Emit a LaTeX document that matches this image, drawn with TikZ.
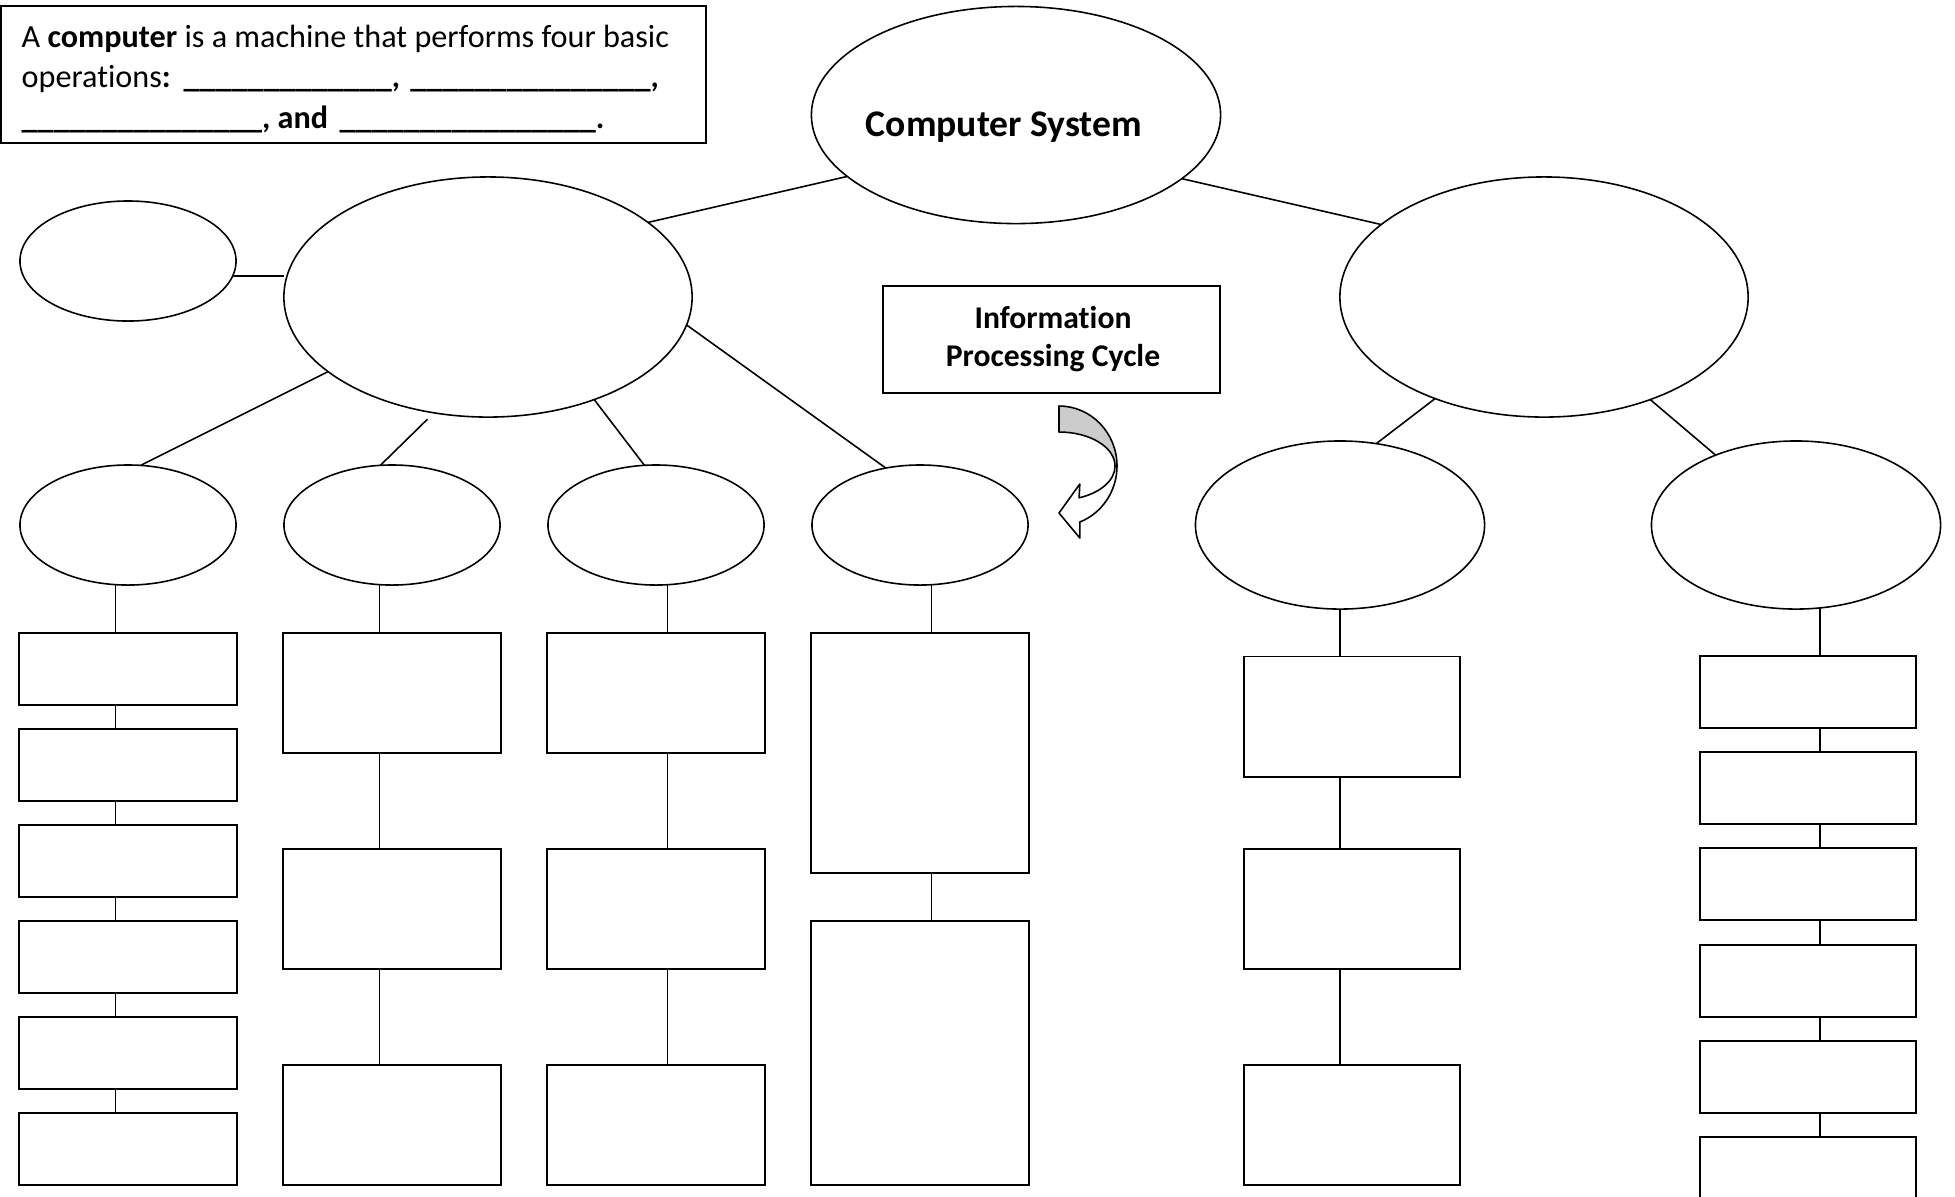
\documentclass[tikz,border=0pt]{standalone}
\usepackage{fontspec}
\setmainfont{Carlito}[Ligatures=NoCommon]
\usetikzlibrary{shapes.geometric}
\begin{document}
\begin{tikzpicture}[x=0.01cm, y=-0.01cm,
  ell/.style={draw, ellipse, inner sep=0pt, outer sep=0pt, line width=0.45pt},
  smallell/.style={ell, minimum width=2.16cm, minimum height=1.20cm},
  bigell/.style={ell, minimum width=4.08cm, minimum height=2.40cm},
  midell/.style={ell, minimum width=2.89cm, minimum height=1.68cm},
  box/.style={draw, rectangle, inner sep=0pt, outer sep=0pt, line width=0.55pt},
  shortbox/.style={box, minimum width=2.17cm, minimum height=0.72cm},
  midbox/.style={box, minimum width=2.17cm, minimum height=1.20cm},
  conn/.style={line width=0.45pt},
  deftext/.style={anchor=base west, inner sep=0pt, font=\fontsize{9.15}{11}\selectfont},
  headtext/.style={anchor=base, inner sep=0pt, font=\bfseries\fontsize{9}{11}\selectfont}]
\useasboundingbox (0,0) rectangle (1955,1196);

% definition box
\node[box, minimum width=7.05cm, minimum height=1.375cm] (def) at (353.5,74.5) {};
\node[deftext] (def1) at (21,47) {A \textbf{computer} is a machine that performs four basic};
\node[deftext] (def2) at (21,87.5) {operations\textbf{:}\ \hspace{1.6pt}\textbf{\_\_\_\_\_\_\_\_\_\_\_\_\_,\ \hspace{0.8pt}\_\_\_\_\_\_\_\_\_\_\_\_\_\_\_,}};
\node[deftext] (def3) at (21,128) {\textbf{\_\_\_\_\_\_\_\_\_\_\_\_\_\_\_, and\ \hspace{1.2pt}\_\_\_\_\_\_\_\_\_\_\_\_\_\_\_\_.}};

% top ellipse
\node[ell, minimum width=4.09cm, minimum height=2.17cm] (cs) at (1016,115) {};
\node[anchor=base, inner sep=0pt, font=\bfseries\fontsize{10.7}{13}\selectfont] (cst) at (1004,136.5) {Computer System};

% information processing cycle
\node[box, minimum width=3.37cm, minimum height=1.07cm] (ipc) at (1051.5,339.5) {};
\node[headtext] (ipc1) at (1053,328) {Information};
\node[headtext] (ipc2) at (1053,366.5) {Processing Cycle};

% curved arrow
\filldraw[fill=black!20, line width=0.45pt, line join=round]
  (1059,406) arc[start angle=-90, end angle=0, x radius=58, y radius=60]
  -- (1115,466) arc[start angle=0, end angle=-90, x radius=56, y radius=34] -- cycle;
\filldraw[fill=white, line width=0.45pt, line join=round]
  (1117,466) arc[start angle=0, end angle=69, x radius=58, y radius=60]
  -- (1079.8,538) -- (1059,513) -- (1079.8,484) -- (1079.1,497.8)
  arc[start angle=69, end angle=0, x radius=56, y radius=34] -- cycle;

% ellipses
\node[smallell] (sl) at (128,261) {};
\node[bigell] (bl) at (488,297) {};
\node[bigell] (br) at (1544,297) {};
\node[smallell] (e1) at (128,525) {};
\node[smallell] (e2) at (392,525) {};
\node[smallell] (e3) at (656,525) {};
\node[smallell] (e4) at (920,525) {};
\node[midell] (e5) at (1340,525) {};
\node[midell] (e6) at (1796,525) {};

% boxes column 1
\foreach \i/\y in {1/669, 2/765, 3/861, 4/957, 5/1053, 6/1149}
  \node[shortbox] (b1\i) at (128,\y) {};
% columns 2 and 3
\foreach \i/\y in {1/692.7, 2/909, 3/1125} {
  \node[midbox] (b2\i) at (392,\y) {};
  \node[midbox] (b3\i) at (656,\y) {};
}
% column 4
\node[box, minimum width=2.17cm, minimum height=2.40cm] (b41) at (920,752.8) {};
\node[box, minimum width=2.17cm, minimum height=2.64cm] (b42) at (920,1052.8) {};
% column 5
\foreach \i/\y in {1/716.5, 2/909, 3/1125}
  \node[box, minimum width=2.16cm, minimum height=1.20cm] (b5\i) at (1352,\y) {};
% column 6
\foreach \i/\y in {1/692, 2/788.2, 3/884.4, 4/980.6, 5/1076.8, 6/1173}
  \node[box, minimum width=2.16cm, minimum height=0.72cm] (b6\i) at (1808,\y) {};

% connectors, upper part
\draw[conn] (cs.200.5) -- (bl.25);
\draw[conn] (cs.339.5) -- (br.156);
\draw[conn] (sl.352.6) -- (sl.352.6 -| bl.west);
\draw[conn] (bl.205.4) -- (e1.78.4);
\draw[conn, shorten <=2.6pt] (bl.245.2) -- (e2.101.6);
\draw[conn] (bl.316.4) -- (e3.101.5);
\draw[conn] (bl.352.6) -- (e4.121.6);
\draw[conn] (br.223.6) -- (e5.66.6);
\draw[conn] (br.316.2) -- (e6.139.2);

% connectors, ellipse to first box
\draw[conn] (e1.258.6) -- (e1.258.6 |- b11.north);
\draw[conn] (e2.258.6) -- (e2.258.6 |- b21.north);
\draw[conn] (e3.281.4) -- (e3.281.4 |- b31.north);
\draw[conn] (e4.281.4) -- (e4.281.4 |- b41.north);
\draw[conn] (e5.south) -- (e5.south |- b51.north);
\draw[conn] (e6.286.2) -- (e6.286.2 |- b61.north);

% connectors between boxes
\foreach \a/\b in {b11/b12, b12/b13, b13/b14, b14/b15, b15/b16}
  \draw[conn] (\a.south -| e1.258.6) -- (\b.north -| e1.258.6);
\foreach \a/\b in {b21/b22, b22/b23}
  \draw[conn] (\a.south -| e2.258.6) -- (\b.north -| e2.258.6);
\foreach \a/\b in {b31/b32, b32/b33}
  \draw[conn] (\a.south -| e3.281.4) -- (\b.north -| e3.281.4);
\draw[conn] (b41.south -| e4.281.4) -- (b42.north -| e4.281.4);
\foreach \a/\b in {b51/b52, b52/b53}
  \draw[conn] (\a.south -| e5.south) -- (\b.north -| e5.south);
\foreach \a/\b in {b61/b62, b62/b63, b63/b64, b64/b65, b65/b66}
  \draw[conn] (\a.south -| e6.286.2) -- (\b.north -| e6.286.2);
\end{tikzpicture}
\end{document}
